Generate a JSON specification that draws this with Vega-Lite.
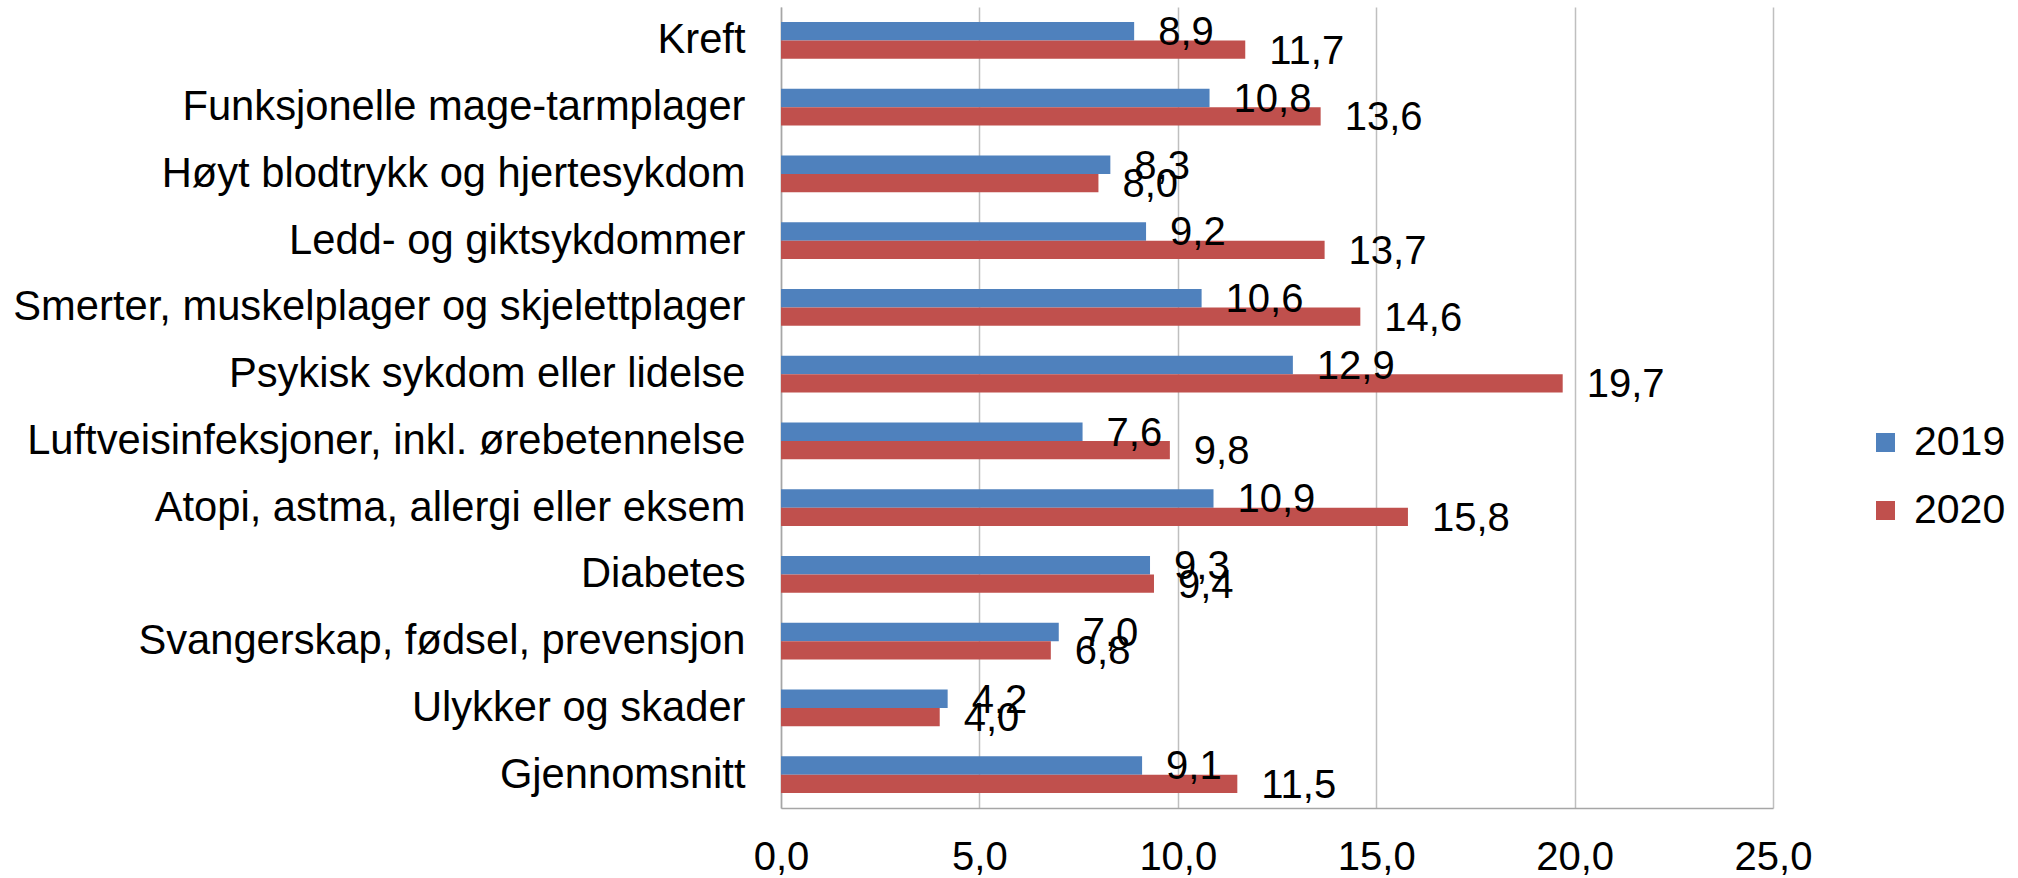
{
  "$schema": "https://vega.github.io/schema/vega-lite/v6.json",
  "autosize": "none",
  "width": 992,
  "height": 801,
  "padding": {"left": 781, "top": 7, "right": 245, "bottom": 70},
  "background": "white",
  "data": {
    "values": [
      {"kategori": "Kreft", "år": "2019", "verdi": 8.9},
      {"kategori": "Kreft", "år": "2020", "verdi": 11.7},
      {"kategori": "Funksjonelle mage-tarmplager", "år": "2019", "verdi": 10.8},
      {"kategori": "Funksjonelle mage-tarmplager", "år": "2020", "verdi": 13.6},
      {"kategori": "Høyt blodtrykk og hjertesykdom", "år": "2019", "verdi": 8.3},
      {"kategori": "Høyt blodtrykk og hjertesykdom", "år": "2020", "verdi": 8.0},
      {"kategori": "Ledd- og giktsykdommer", "år": "2019", "verdi": 9.2},
      {"kategori": "Ledd- og giktsykdommer", "år": "2020", "verdi": 13.7},
      {"kategori": "Smerter, muskelplager og skjelettplager", "år": "2019", "verdi": 10.6},
      {"kategori": "Smerter, muskelplager og skjelettplager", "år": "2020", "verdi": 14.6},
      {"kategori": "Psykisk sykdom eller lidelse", "år": "2019", "verdi": 12.9},
      {"kategori": "Psykisk sykdom eller lidelse", "år": "2020", "verdi": 19.7},
      {"kategori": "Luftveisinfeksjoner, inkl. ørebetennelse", "år": "2019", "verdi": 7.6},
      {"kategori": "Luftveisinfeksjoner, inkl. ørebetennelse", "år": "2020", "verdi": 9.8},
      {"kategori": "Atopi, astma, allergi eller eksem", "år": "2019", "verdi": 10.9},
      {"kategori": "Atopi, astma, allergi eller eksem", "år": "2020", "verdi": 15.8},
      {"kategori": "Diabetes", "år": "2019", "verdi": 9.3},
      {"kategori": "Diabetes", "år": "2020", "verdi": 9.4},
      {"kategori": "Svangerskap, fødsel, prevensjon", "år": "2019", "verdi": 7.0},
      {"kategori": "Svangerskap, fødsel, prevensjon", "år": "2020", "verdi": 6.8},
      {"kategori": "Ulykker og skader", "år": "2019", "verdi": 4.2},
      {"kategori": "Ulykker og skader", "år": "2020", "verdi": 4.0},
      {"kategori": "Gjennomsnitt", "år": "2019", "verdi": 9.1},
      {"kategori": "Gjennomsnitt", "år": "2020", "verdi": 11.5}
    ]
  },
  "encoding": {
    "y": {
      "field": "kategori",
      "type": "nominal",
      "sort": null,
      "scale": {"paddingInner": 0.45, "paddingOuter": 0.225},
      "axis": {
        "title": null,
        "ticks": false,
        "labelPadding": 36,
        "labelFontSize": 41.7,
        "labelFont": "Liberation Sans",
        "labelColor": "#000000",
        "labelLimit": 0,
        "domainColor": "#A6A6A6",
        "domainWidth": 1.5
      }
    },
    "yOffset": {
      "field": "år",
      "type": "nominal",
      "scale": {"paddingInner": 0, "paddingOuter": 0}
    },
    "x": {
      "field": "verdi",
      "type": "quantitative",
      "scale": {"domain": [0, 25], "nice": false},
      "axis": {
        "title": null,
        "values": [0, 5, 10, 15, 20, 25],
        "format": ".1f",
        "ticks": false,
        "labelPadding": 29,
        "labelFontSize": 40,
        "labelFont": "Liberation Sans",
        "labelColor": "#000000",
        "labelFlush": false,
        "grid": true,
        "gridColor": "#BFBFBF",
        "gridWidth": 1.5,
        "domainColor": "#A6A6A6",
        "domainWidth": 1.5
      }
    }
  },
  "layer": [
    {
      "mark": {"type": "bar"},
      "encoding": {
        "color": {
          "field": "år",
          "type": "nominal",
          "scale": {"domain": ["2019", "2020"], "range": ["#4F81BD", "#C0504D"]},
          "legend": {
            "title": null,
            "orient": "none",
            "legendX": 1084,
            "legendY": 415,
            "padding": 0,
            "symbolType": "square",
            "symbolSize": 361,
            "symbolStrokeWidth": 0,
            "labelFontSize": 41,
            "labelFont": "Liberation Sans",
            "labelColor": "#000000",
            "labelOffset": 8,
            "rowPadding": 26
          }
        }
      }
    },
    {
      "mark": {
        "type": "text",
        "align": "left",
        "baseline": "middle",
        "dx": 24,
        "dy": 2,
        "fontSize": 40,
        "font": "Liberation Sans",
        "color": "#000000"
      },
      "encoding": {
        "text": {"field": "verdi", "type": "quantitative", "format": ".1f"}
      }
    }
  ],
  "config": {
    "view": {"stroke": null},
    "locale": {
      "number": {"decimal": ",", "thousands": " ", "grouping": [3], "currency": ["", " kr"]}
    }
  }
}
